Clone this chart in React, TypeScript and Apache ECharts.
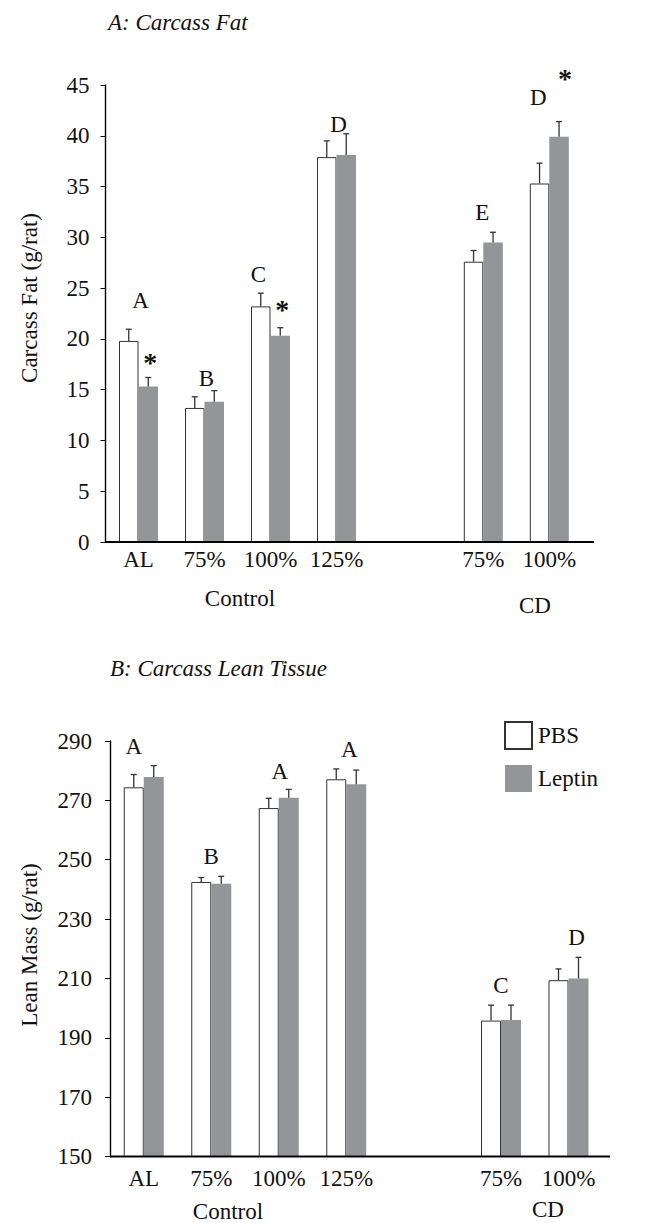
import React, { useEffect, useRef } from "react";
import * as echarts from "echarts";

const controlCats = ["AL", "75%", "100%", "125%"];
const cdCats = ["75%", "100%"];

// A: Carcass Fat (g/rat)
const fatPbsControl = [19.8, 13.2, 23.2, 37.9];
const fatPbsControlErr = [1.15, 1.1, 1.3, 1.6];
const fatLeptinControl = [15.3, 13.8, 20.3, 38.1];
const fatLeptinControlErr = [0.9, 1.1, 0.8, 2.1];
const fatPbsCD = [27.6, 35.3];
const fatPbsCDErr = [1.1, 2.0];
const fatLeptinCD = [29.5, 39.9];
const fatLeptinCDErr = [1.0, 1.5];
const fatLettersControl = ["A", "B", "C", "D"];
const fatLetterYControl = [23.8, 16.1, 26.3, 41.1];
const fatLettersCD = ["E", "D"];
const fatLetterYCD = [32.4, 43.8];
const fatStarYControl = [18.1, null, 23.3, null];
const fatStarYCD = [null, 46.0];

// B: Carcass Lean Tissue (g/rat)
const leanPbsControl = [274.4, 242.5, 267.4, 277.1];
const leanPbsControlErr = [4.3, 1.5, 3.3, 3.5];
const leanLeptinControl = [277.9, 241.9, 270.9, 275.4];
const leanLeptinControlErr = [3.8, 2.5, 2.8, 4.8];
const leanPbsCD = [195.8, 209.4];
const leanPbsCDErr = [5.2, 3.8];
const leanLeptinCD = [196.0, 210.0];
const leanLeptinCDErr = [5.0, 7.1];
const leanLettersControl = ["A", "B", "A", "A"];
const leanLetterYControl = [288.1, 251.0, 279.7, 287.0];
const leanLettersCD = ["C", "D"];
const leanLetterYCD = [207.5, 223.7];

const FONT = "Liberation Serif, Times New Roman, serif";
const TXT = "#111";
const GRAY = "#939598";

// layout (styles / positions kept out of the data arrays)
const fatLetterDxControl = [2, 2, -12, 2];
const fatLetterDxCD = [-1, -11];
const leanLetterDxControl = [-10, 0, 1, 3];
const leanLetterDxCD = [0, 8];
const fatStarDxControl = [2, 0, 2, 0];
const fatStarDxCD = [0, 6];

function errRender(barW: number) {
  return (params: any, api: any) => {
    const idx = api.value(0);
    const cx = api.coord([idx, api.value(1)])[0];
    const children: any[] = [];
    const pairs = [
      [1, 2, -1],
      [3, 4, 1],
    ];
    pairs.forEach(([vi, ei, side]) => {
      const v = api.value(vi);
      const e = api.value(ei);
      const x = cx + (side * barW) / 2;
      const y0 = api.coord([idx, v])[1];
      const y1 = api.coord([idx, v + e])[1];
      const st = { stroke: "#333", lineWidth: 1.3 };
      children.push({ type: "line", shape: { x1: x, y1: y0, x2: x, y2: y1 }, style: st });
      children.push({ type: "line", shape: { x1: x - 3, y1: y1, x2: x + 3, y2: y1 }, style: st });
    });
    return { type: "group", children };
  };
}

function letterRender(letters: string[], dxs: number[]) {
  return (params: any, api: any) => {
    const idx = api.value(0);
    const p = api.coord([idx, api.value(1)]);
    return {
      type: "text",
      x: p[0] + dxs[params.dataIndex],
      y: p[1],
      style: {
        text: letters[params.dataIndex],
        fontFamily: FONT,
        fontSize: 23,
        fill: TXT,
        textAlign: "center",
        textVerticalAlign: "middle",
      },
    };
  };
}

function starRender(barW: number, dxs: number[]) {
  return (params: any, api: any) => {
    const idx = api.value(0);
    const p = api.coord([idx, api.value(1)]);
    return {
      type: "text",
      x: p[0] + barW / 2 + dxs[idx],
      y: p[1] + 4,
      style: {
        text: "*",
        fontFamily: FONT,
        fontSize: 28,
        fontWeight: "bold",
        fill: TXT,
        textAlign: "center",
        textVerticalAlign: "middle",
      },
    };
  };
}

function panelSeries(
  axis: number,
  pbs: number[],
  pbsErr: number[],
  lep: number[],
  lepErr: number[],
  barW: number,
  letters: string[],
  letterY: number[],
  letterDx: number[],
  starY: (number | null)[] | null,
  starDx: number[] | null
) {
  const out: any[] = [
    {
      name: "PBS",
      type: "bar",
      xAxisIndex: axis,
      yAxisIndex: axis,
      data: pbs,
      barWidth: barW,
      barGap: "0%",
      itemStyle: { color: "#ffffff", borderColor: "#333", borderWidth: 1 },
    },
    {
      name: "Leptin",
      type: "bar",
      xAxisIndex: axis,
      yAxisIndex: axis,
      data: lep,
      barWidth: barW,
      barGap: "0%",
      itemStyle: { color: GRAY, borderWidth: 0 },
    },
    {
      type: "custom",
      xAxisIndex: axis,
      yAxisIndex: axis,
      data: pbs.map((v, k) => [k, v, pbsErr[k], lep[k], lepErr[k]]),
      encode: { x: 0, y: 1 },
      renderItem: errRender(barW),
      z: 5,
      clip: false,
    },
    {
      type: "custom",
      xAxisIndex: axis,
      yAxisIndex: axis,
      data: letterY.map((v, k) => [k, v]),
      encode: { x: 0, y: 1 },
      renderItem: letterRender(letters, letterDx),
      z: 6,
      clip: false,
    },
  ];
  if (starY && starDx) {
    const sd: any[] = [];
    starY.forEach((v, k) => {
      if (v !== null) sd.push([k, v]);
    });
    out.push({
      type: "custom",
      xAxisIndex: axis,
      yAxisIndex: axis,
      data: sd,
      encode: { x: 0, y: 1 },
      renderItem: starRender(barW, starDx),
      z: 6,
      clip: false,
    });
  }
  return out;
}

const xAxisBase = (cats: string[], grid: number, margin: number) => ({
  type: "category",
  gridIndex: grid,
  data: cats,
  axisLine: { show: false },
  axisTick: { show: false },
  axisLabel: { fontFamily: FONT, fontSize: 23, color: TXT, margin, lineHeight: 23, interval: 0 },
  splitLine: { show: false },
});

const yAxisBase = (grid: number, min: number, max: number, interval: number, show: boolean, margin: number) => ({
  type: "value",
  gridIndex: grid,
  min,
  max,
  interval,
  show,
  axisLine: { show: true, lineStyle: { color: "#000", width: 1.4 } },
  axisTick: { show: true, length: 5, inside: false, lineStyle: { color: "#000", width: 1 } },
  axisLabel: { fontFamily: FONT, fontSize: 23, color: TXT, margin },
  splitLine: { show: false },
});

const textEl = (text: string, x: number, y: number, extra: any = {}) => ({
  type: "text",
  x,
  y,
  rotation: extra.rotation || 0,
  style: {
    text,
    fontFamily: FONT,
    fontSize: 23,
    fontStyle: extra.italic ? "italic" : "normal",
    fill: TXT,
    textAlign: extra.align || "center",
    textVerticalAlign: "middle",
  },
});

export default function App() {
  const ref = useRef<HTMLDivElement>(null);
  useEffect(() => {
    if (!ref.current) return;
    const chart = echarts.init(ref.current, null, { renderer: "svg" });
    const option: any = {
      animation: false,
      backgroundColor: "#ffffff",
      legend: {
        orient: "vertical",
        left: 504,
        top: 721,
        padding: 0,
        itemWidth: 27,
        itemHeight: 27,
        itemGap: 15,
        selectedMode: false,
        icon: "rect",
        data: ["PBS", "Leptin"],
        textStyle: { fontFamily: FONT, fontSize: 23, color: TXT, padding: [0, 0, 0, 1] },
      },
      grid: [
        { left: 105.5, top: 85, width: 264, height: 457 },
        { left: 450.3, top: 85, width: 132, height: 457 },
        { left: 110, top: 741, width: 270, height: 415.5 },
        { left: 467.25, top: 741, width: 135, height: 415.5 },
      ],
      xAxis: [
        xAxisBase(controlCats, 0, 6),
        xAxisBase(cdCats, 1, 6),
        xAxisBase(controlCats, 2, 10),
        xAxisBase(cdCats, 3, 10),
      ],
      yAxis: [
        yAxisBase(0, 0, 45, 5, true, 16),
        yAxisBase(1, 0, 45, 5, false, 16),
        yAxisBase(2, 150, 290, 20, true, 18),
        yAxisBase(3, 150, 290, 20, false, 18),
      ],
      series: [
        ...panelSeries(0, fatPbsControl, fatPbsControlErr, fatLeptinControl, fatLeptinControlErr, 19.5,
          fatLettersControl, fatLetterYControl, fatLetterDxControl, fatStarYControl, fatStarDxControl),
        ...panelSeries(1, fatPbsCD, fatPbsCDErr, fatLeptinCD, fatLeptinCDErr, 19.5,
          fatLettersCD, fatLetterYCD, fatLetterDxCD, fatStarYCD, fatStarDxCD),
        ...panelSeries(2, leanPbsControl, leanPbsControlErr, leanLeptinControl, leanLeptinControlErr, 20,
          leanLettersControl, leanLetterYControl, leanLetterDxControl, null, null),
        ...panelSeries(3, leanPbsCD, leanPbsCDErr, leanLeptinCD, leanLeptinCDErr, 20,
          leanLettersCD, leanLetterYCD, leanLetterDxCD, null, null),
      ],
      graphic: [
        textEl("A: Carcass Fat", 108, 22, { italic: true, align: "left" }),
        textEl("B: Carcass Lean Tissue", 110, 668, { italic: true, align: "left" }),
        textEl("Carcass Fat (g/rat)", 29, 298, { rotation: Math.PI / 2 }),
        textEl("Lean Mass (g/rat)", 29, 945, { rotation: Math.PI / 2 }),
        { type: "line", z: 10, shape: { x1: 105.5, y1: 542, x2: 594, y2: 542 }, style: { stroke: "#000", lineWidth: 2 } },
        { type: "line", z: 10, shape: { x1: 110, y1: 1156.5, x2: 610, y2: 1156.5 }, style: { stroke: "#000", lineWidth: 2 } },
        textEl("Control", 240, 598),
        textEl("CD", 535, 605),
        textEl("Control", 228, 1211),
        textEl("CD", 548, 1209),
      ],
    };
    chart.setOption(option);
    return () => chart.dispose();
  }, []);
  return (
    <div
      ref={ref}
      style={{ position: "absolute", left: 0, top: 0, width: 657, height: 1223, background: "#fff" }}
    />
  );
}
